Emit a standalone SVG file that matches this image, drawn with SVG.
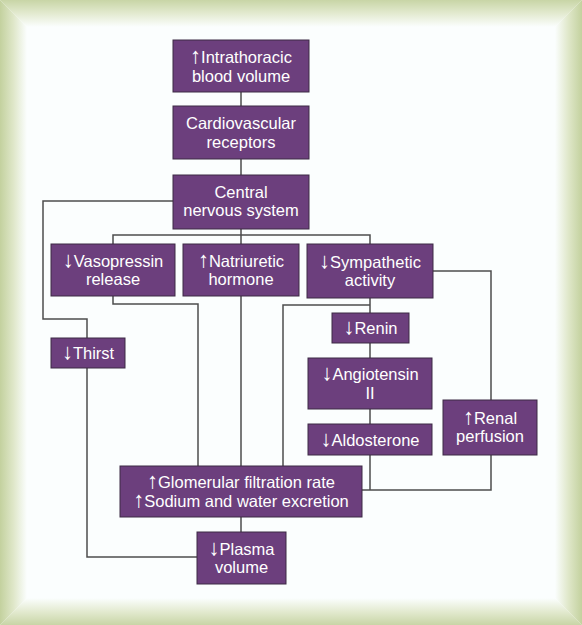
<svg xmlns="http://www.w3.org/2000/svg" width="582" height="625" viewBox="0 0 582 625">
<style>
.box{fill:#6c3f7d;stroke:#3d2a44;stroke-width:1}
.t{font-family:"Liberation Sans",Arial,sans-serif;font-size:16.5px;fill:#ffffff;text-anchor:middle}
.a{font-size:22px}
.c{fill:none;stroke:#4d4d4d;stroke-width:1.5}
</style>
<defs>
<linearGradient id="gt" x1="0" y1="0" x2="0" y2="1"><stop offset="0" stop-color="#c8d5a6"/><stop offset="0.5" stop-color="#e3ead0"/><stop offset="1" stop-color="#fbfefe"/></linearGradient>
<linearGradient id="gb" x1="0" y1="1" x2="0" y2="0"><stop offset="0" stop-color="#c8d5a6"/><stop offset="0.5" stop-color="#e3ead0"/><stop offset="1" stop-color="#fbfefe"/></linearGradient>
<linearGradient id="gl" x1="0" y1="0" x2="1" y2="0"><stop offset="0" stop-color="#c3d19e"/><stop offset="0.5" stop-color="#dfe7c9"/><stop offset="1" stop-color="#fbfefe"/></linearGradient>
<linearGradient id="gr" x1="1" y1="0" x2="0" y2="0"><stop offset="0" stop-color="#c3d19e"/><stop offset="0.5" stop-color="#dfe7c9"/><stop offset="1" stop-color="#fbfefe"/></linearGradient>
</defs>
<g id="frame">
<rect x="0" y="0" width="582" height="625" fill="#fbfefe"/>
<polygon points="0,0 582,0 555,27 27,27" fill="url(#gt)"/>
<polygon points="0,625 582,625 555,598 27,598" fill="url(#gb)"/>
<polygon points="0,0 27,27 27,598 0,625" fill="url(#gl)"/>
<polygon points="582,0 555,27 555,598 582,625" fill="url(#gr)"/>
</g>
<g id="connectors">
<path class="c" d="M241,92V106"/>
<path class="c" d="M241,159V175"/>
<path class="c" d="M241,229V244M113,244V235H370V244"/>
<path class="c" d="M173,201H43V319H87V338"/>
<path class="c" d="M87,368V557H197"/>
<path class="c" d="M113,296V304H198V466"/>
<path class="c" d="M241,296V466"/>
<path class="c" d="M370,298V313M370,305H283V466"/>
<path class="c" d="M370,343V358"/>
<path class="c" d="M370,409V424"/>
<path class="c" d="M370,455V490"/>
<path class="c" d="M433,271H491V400"/>
<path class="c" d="M491,455V490H362"/>
<path class="c" d="M241,517V532"/>
</g>
<g id="intrathoracic"><rect class="box" x="173" y="40" width="136" height="52"/><text class="t" x="241" y="63"><tspan class="a">↑</tspan>Intrathoracic</text><text class="t" x="241" y="82">blood volume</text></g>
<g id="cardiovascular"><rect class="box" x="173" y="106" width="136" height="53"/><text class="t" x="241" y="129">Cardiovascular</text><text class="t" x="241" y="148">receptors</text></g>
<g id="cns"><rect class="box" x="173" y="175" width="136" height="54"/><text class="t" x="241" y="197.5">Central</text><text class="t" x="241" y="216">nervous system</text></g>
<g id="vasopressin"><rect class="box" x="51" y="244" width="124" height="52"/><text class="t" x="113" y="266.5"><tspan class="a">↓</tspan>Vasopressin</text><text class="t" x="113" y="285">release</text></g>
<g id="natriuretic"><rect class="box" x="183" y="244" width="116" height="52"/><text class="t" x="241" y="266.5"><tspan class="a">↑</tspan>Natriuretic</text><text class="t" x="241" y="285">hormone</text></g>
<g id="sympathetic"><rect class="box" x="307" y="244" width="126" height="54"/><text class="t" x="370" y="267.5"><tspan class="a">↓</tspan>Sympathetic</text><text class="t" x="370" y="286">activity</text></g>
<g id="renin"><rect class="box" x="332" y="313" width="77" height="30"/><text class="t" x="370.5" y="334"><tspan class="a">↓</tspan>Renin</text></g>
<g id="angiotensin"><rect class="box" x="308" y="358" width="124" height="51"/><text class="t" x="370" y="380"><tspan class="a">↓</tspan>Angiotensin</text><text class="t" x="370" y="398.5">II</text></g>
<g id="aldosterone"><rect class="box" x="308" y="424" width="124" height="31"/><text class="t" x="370" y="445.5"><tspan class="a">↓</tspan>Aldosterone</text></g>
<g id="renal"><rect class="box" x="443" y="400" width="94" height="55"/><text class="t" x="490" y="423.5"><tspan class="a">↑</tspan>Renal</text><text class="t" x="490" y="442">perfusion</text></g>
<g id="thirst"><rect class="box" x="51" y="338" width="74" height="30"/><text class="t" x="88" y="359"><tspan class="a">↓</tspan>Thirst</text></g>
<g id="gfr"><rect class="box" x="120" y="466" width="242" height="51"/><text class="t" x="241" y="488"><tspan class="a">↑</tspan>Glomerular filtration rate</text><text class="t" x="241" y="506.5"><tspan class="a">↑</tspan>Sodium and water excretion</text></g>
<g id="plasma"><rect class="box" x="197" y="532" width="89" height="52"/><text class="t" x="241.5" y="554.5"><tspan class="a">↓</tspan>Plasma</text><text class="t" x="241.5" y="573">volume</text></g>
</svg>
